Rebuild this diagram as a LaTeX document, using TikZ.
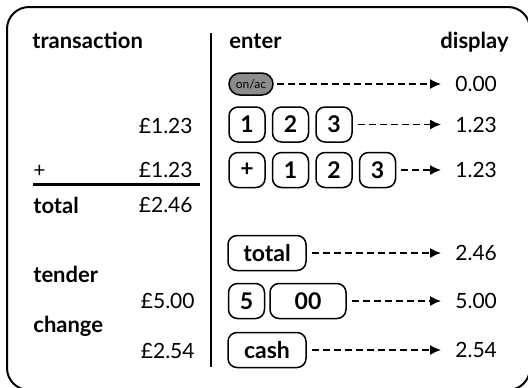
\documentclass[tikz,border=0pt]{standalone}
\usepackage{fontspec}
\setmainfont{Lato}
\usepackage{tikz}
\usetikzlibrary{positioning}
\usetikzlibrary{arrows.meta}

\begin{document}
\begin{tikzpicture}[x=0.5pt,y=-0.5pt,
  head/.style={inner sep=0pt,font=\fontsize{11}{12}\selectfont\bfseries},
  amount/.style={inner sep=0pt,font=\fontsize{10.5}{12}\selectfont},
  key/.style={draw,line width=0.75pt,rounded corners=4.5pt,minimum width=18pt,minimum height=17.5pt,inner sep=0pt,font=\fontsize{11.5}{12}\selectfont\bfseries},
  lcd/.style={inner sep=0pt,anchor=west,font=\fontsize{10.5}{11}\selectfont},
  arr/.style={line width=0.75pt,dash pattern=on 3.5pt off 2pt,-{Latex[length=5.5pt,width=5pt]},shorten <=2.5pt,shorten >=7pt}]
  \useasboundingbox (0,0) rectangle (528,387);
  \clip (0,0) rectangle (528,387);
  \draw[line width=1pt,rounded corners=11pt] (7,7) rectangle (530,390);
  \draw[line width=1.25pt] (211,33) -- (211,367);
  \draw[line width=1.5pt] (33,184) -- (200,184);

  \node[head,anchor=base west] (trans) at (32,48) {transaction};
  \node[head,anchor=base west] (enter) at (229,48) {enter};
  \node[head,anchor=base east] (disp) at (509,48) {display};

  \node[amount,anchor=base east] (a1) at (193,133) {£1.23};
  \node[amount,anchor=base west] (plus) at (33,177) {+};
  \node[amount,anchor=base east] (a2) at (193,177) {£1.23};
  \node[head,anchor=base west] (tot) at (33,213) {total};
  \node[amount,anchor=base east] (a3) at (193,212) {£2.46};
  \node[head,anchor=base west] (tend) at (33,282) {tender};
  \node[amount,anchor=base east] (a4) at (195,308) {£5.00};
  \node[head,anchor=base west] (chg) at (33,332) {change};
  \node[amount,anchor=base east] (a5) at (195,358) {£2.54};

  \node[draw,fill=black!45,line width=0.75pt,rounded corners=5.5pt,minimum width=22pt,minimum height=11pt,inner sep=0pt,font=\fontsize{6}{7}\selectfont] (onac) at (251,84) {on/ac};
  \node[lcd] (d1) at (455,84) {0.00};
  \draw[arr,shorten <=1.5pt] (onac) -- (d1);

  \node[key] (k1) at (247,124.5) {1};
  \node[key,right=3pt of k1] (k2) {2};
  \node[key,right=3pt of k2] (k3) {3};
  \node[lcd] (d2) at (455,124.5) {1.23};
  \draw[arr] (k3) -- (d2);

  \node[key] (kp) at (247,170) {+};
  \node[key,right=3pt of kp] (kp1) {1};
  \node[key,right=3pt of kp1] (kp2) {2};
  \node[key,right=3pt of kp2] (kp3) {3};
  \node[lcd] (d3) at (455,170) {1.23};
  \draw[arr] (kp3) -- (d3);

  \node[key,minimum width=39pt] (ktot) at (267,253) {total};
  \node[lcd] (d4) at (455,253) {2.46};
  \draw[arr] (ktot) -- (d4);

  \node[key] (k5) at (246.5,301) {5};
  \node[key,minimum width=38pt,right=2pt of k5] (k00) {00};
  \node[lcd] (d5) at (455,301) {5.00};
  \draw[arr] (k00) -- (d5);

  \node[key,minimum width=39pt] (kcash) at (267,350) {cash};
  \node[lcd] (d6) at (455,350) {2.54};
  \draw[arr] (kcash) -- (d6);
\end{tikzpicture}
\end{document}
